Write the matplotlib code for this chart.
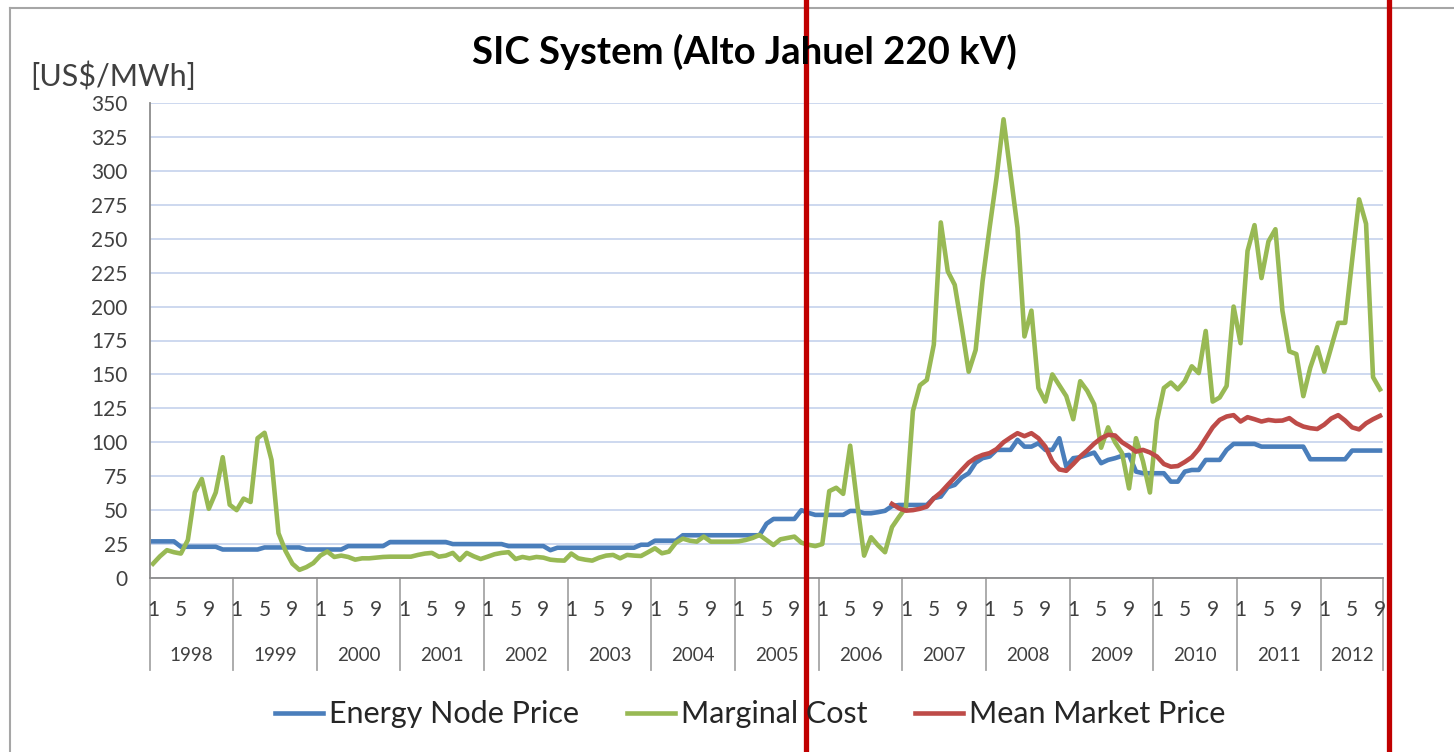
import matplotlib.pyplot as plt
import numpy as np
from matplotlib.lines import Line2D
import matplotlib.transforms as mtransforms

# monthly series, Jan 1998 .. Sep 2012
years = list(range(1998, 2013))
month_ticks = [1, 5, 9]

energy_node = [
    27, 27, 27, 27, 23, 23, 23, 23, 23, 23, 21, 21,                      # 1998
    21, 21, 21, 21, 22.5, 22.5, 22.5, 22.5, 22.5, 22.5, 21, 21,          # 1999
    21, 21, 21, 21, 23.5, 23.5, 23.5, 23.5, 23.5, 23.5, 26.5, 26.5,      # 2000
    26.5, 26.5, 26.5, 26.5, 26.5, 26.5, 26.5, 25, 25, 25, 25, 25,        # 2001
    25, 25, 25, 23.5, 23.5, 23.5, 23.5, 23.5, 23.5, 20.5, 22.3, 22.3,    # 2002
    22.3, 22.3, 22.3, 22.3, 22.3, 22.3, 22.3, 22.3, 22.3, 22.3, 24.5, 24.5,  # 2003
    27.5, 27.5, 27.5, 27.5, 31.5, 31.5, 31.5, 31.5, 31.5, 31.5, 31.5, 31.5,  # 2004
    31.5, 31.5, 31.5, 31.5, 40, 43.5, 43.5, 43.5, 43.5, 50, 48, 46.5,    # 2005
    46.5, 46.5, 46.5, 46.5, 49.4, 49.4, 47.7, 47.7, 48.5, 49.5, 53, 53.8,  # 2006
    53.8, 53.8, 53.8, 53.8, 58.8, 60, 66.9, 68.6, 74, 77.2, 85, 88.3,    # 2007
    89.5, 94.4, 94.4, 94.4, 101.8, 96.8, 96.8, 99.3, 94.4, 94.4, 103, 82,  # 2008
    88.3, 89, 90.7, 92.4, 84.6, 87, 88.3, 90, 90.7, 78.4, 77.2, 77.2,    # 2009
    77.2, 77.2, 71, 71, 78.4, 79.6, 79.6, 87, 87, 87, 94.4, 98.8,        # 2010
    98.8, 98.8, 98.8, 96.8, 96.8, 96.8, 96.8, 96.8, 96.8, 96.8, 87.5, 87.5,  # 2011
    87.5, 87.5, 87.5, 87.5, 93.9, 93.9, 93.9, 93.9, 93.9,                # 2012
]

marginal_cost = [
    10.5, 16, 20.5, 19, 18, 28, 63, 73, 51, 63, 89, 54,                  # 1998
    50, 58.5, 56, 103, 107, 87, 33, 20, 10.5, 6, 8, 11,                  # 1999
    16.5, 19.5, 15.5, 16.5, 15.5, 13.5, 14.5, 14.5, 15, 15.5, 15.7, 15.7,  # 2000
    15.7, 15.7, 17, 18, 18.5, 15.7, 16.5, 18.5, 13.3, 18.5, 16, 14,      # 2001
    15.7, 17.5, 18.5, 19, 14, 15.5, 14.5, 15.5, 15, 13.5, 13, 12.8,      # 2002
    18, 14.5, 13.5, 12.8, 15, 16.5, 17, 14.5, 17, 16.5, 16.2, 19,        # 2003
    21.9, 18.2, 19.4, 26, 29, 27.5, 26.8, 30.5, 26.8, 26.8, 26.8, 26.8,  # 2004
    27, 28, 29.5, 31.7, 28, 24.3, 28.5, 29.5, 30.5, 26, 24.5, 23.5,      # 2005
    25, 64, 66.5, 62, 97.5, 55, 16.5, 30, 24, 19, 37.5, 45,              # 2006
    52, 123, 142, 146, 172, 262, 226, 216, 185, 152, 168, 219,           # 2007
    258, 295, 338, 298, 258, 178, 197, 140, 130, 150, 142, 134,          # 2008
    117, 145, 138, 128, 96, 111, 100, 92, 66, 103, 86, 63,               # 2009
    116, 140, 144, 139, 145, 156, 151, 182, 130, 133, 141.5, 200,        # 2010
    173, 241, 260, 221, 248, 257, 197, 167, 165, 134, 155, 170,          # 2011
    152, 170, 188, 188, 234, 279, 261, 148, 139,                         # 2012
]

# mean market price starts Nov 2006
mean_market_start = 106
mean_market = [
    54.6, 51.4,                                                           # 2006
    49.6, 50, 51, 52.6, 58.8, 63, 68.6, 74, 79.6, 85, 88.5, 90.7,        # 2007
    92, 95, 100, 103.5, 106.7, 104.5, 106.7, 103, 96.8, 86, 80, 79,      # 2008
    84, 89.5, 94, 99, 103, 105.5, 105, 100, 96.8, 93.1, 94.4, 92.5,      # 2009
    89.5, 84, 82, 82.5, 85.5, 89, 95, 103, 111, 116.5, 119, 120,         # 2010
    115.3, 118.5, 117, 115.3, 116.5, 115.8, 116, 117.8, 114, 111.6, 110.4, 109.8,  # 2011
    113, 117.5, 120, 116, 111, 109.5, 114, 117, 119.5,                   # 2012
]

plt.rcParams['font.family'] = ['Lato', 'DejaVu Sans']

W, H = 1454, 752
fig = plt.figure(figsize=(W / 100, H / 100), dpi=100)
ax = fig.add_axes([150 / W, 1 - 578 / H, (1383 - 150) / W, (578 - 103) / H])

n = len(energy_node)
x = np.arange(n)
ax.plot(x, energy_node, color='#4a7ebb', lw=3.3, label='Energy Node Price')
ax.plot(x, marginal_cost, color='#98b954', lw=3.3, label='Marginal Cost')
ax.plot(x[mean_market_start:mean_market_start + len(mean_market)], mean_market,
        color='#be4b48', lw=3.3, label='Mean Market Price')

x0, x1 = -0.43, n - 1 + 0.43
ax.set_xlim(x0, x1)
ax.set_ylim(0, 350)
ax.set_yticks(np.arange(0, 351, 25))
ax.tick_params(axis='y', length=0, pad=16, labelsize=15, labelcolor='#404040')
ax.set_xticks([])
ax.yaxis.grid(True, color='#c9d6ee', lw=1.3)
ax.set_axisbelow(True)
for s in ['top', 'right']:
    ax.spines[s].set_visible(False)
ax.spines['left'].set_color('#8c8c8c')
ax.spines['bottom'].set_color('#8c8c8c')
ax.spines['left'].set_linewidth(1.3)
ax.spines['bottom'].set_linewidth(1.3)

# two-level category axis
trans = mtransforms.blended_transform_factory(ax.transData, ax.transAxes)
bounds = [x0] + [12 * k - 0.5 for k in range(1, len(years))] + [x1]
for b in bounds:
    ax.plot([b, b], [0, -0.194], transform=trans, clip_on=False, color='#a6a6a6', lw=1.3)
for k, yr in enumerate(years):
    for m in month_ticks:
        idx = 12 * k + m - 1
        if idx < n:
            ax.text(idx, -0.067, str(m), transform=trans, ha='center', va='center',
                    fontsize=15, color='#404040')
    ax.text((bounds[k] + bounds[k + 1]) / 2, -0.164, str(yr), transform=trans,
            ha='center', va='center', fontsize=13.5, color='#404040')

fig.text(0.512, 0.931, 'SIC System (Alto Jahuel 220 kV)', ha='center', va='center',
         fontsize=27.5, fontweight='bold', color='black')
fig.text(30 / W, 1 - 76 / H, '[US$/MWh]', ha='left', va='center', fontsize=22, color='#404040')

fig.legend(loc='center', bbox_to_anchor=(0.516, 0.05), ncol=3, frameon=False,
           fontsize=22, handlelength=1.57, handletextpad=0.2, columnspacing=1.57,
           labelcolor='#262626')

# outer chart border
fig.add_artist(Line2D([10 / W, 1], [1 - 8 / H, 1 - 8 / H], transform=fig.transFigure,
                      color='#a6a6a6', lw=1.5))
fig.add_artist(Line2D([10 / W, 10 / W], [0, 1 - 8 / H], transform=fig.transFigure,
                      color='#a6a6a6', lw=1.5))

# red markers
for px in [806, 1389]:
    fig.add_artist(Line2D([px / W, px / W], [0, 1], transform=fig.transFigure,
                          color='#c00000', lw=3.8))

fig.savefig('out.png', dpi=100)
